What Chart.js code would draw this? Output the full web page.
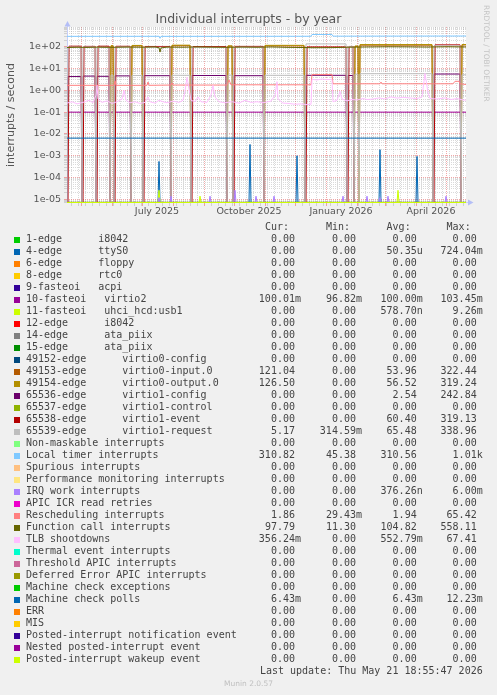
<!DOCTYPE html>
<html>
<head>
<meta charset="utf-8">
<title>Individual interrupts - by year</title>
<script src="https://cdn.jsdelivr.net/npm/chart.js@4/dist/chart.umd.min.js"></script>
<style>
  body { margin: 0; background: #f0f0f0; }
  #pagina { position: relative; width: 497px; height: 695px; overflow: hidden; font-family: 'DejaVu Sans', sans-serif; }
  #grafica { position: absolute; left: 0; top: 0; }
  #titulo { position: absolute; left: 0; top: 11.2px; width: 497px; text-align: center; font-size: 12.5px; line-height: 16px; color: #555; }
  #rrd { position: absolute; left: 482px; top: 5px; writing-mode: vertical-rl; font-size: 7.5px; line-height: 8px; color: #c4c4c4; white-space: nowrap; }
  #leyenda { position: absolute; left: 0; top: 0; width: 497px; font-family: 'DejaVu Sans Mono', monospace; font-size: 10px; color: #444; }
  .fila { position: absolute; left: 0; width: 497px; height: 12px; line-height: 12px; white-space: pre; }
  .cuadro { position: absolute; left: 14px; top: 3.4px; width: 6px; height: 6px; }
  .etiqueta { position: absolute; left: 26px; top: 0; }
  .valor { position: absolute; top: 0; text-align: right; }
  #munin { position: absolute; left: 0; top: 679px; width: 497px; text-align: center; font-size: 7.5px; line-height: 10px; color: #c0c0c0; }
</style>
</head>
<body>
<div id="pagina">
  <canvas id="grafica" width="497" height="225"></canvas>
  <div id="titulo">Individual interrupts - by year</div>
  <div id="rrd">RRDTOOL / TOBI OETIKER</div>
  <div id="leyenda"></div>
  <div id="munin">Munin 2.0.57</div>
</div>
<script>
// x = días desde el 17 abr 2025 (399 = 21 may 2026), y = interrupciones / segundo
const DIA_FIN = 399;
const Y_MIN = 6.8e-6;
const Y_MAX = 805;
const Y_CERO = 7.17e-6; // el cero se dibuja sobre la última fila de píxeles

// Eje x: inicios de mes y etiquetas
const diasMes = [14, 45, 75, 106, 137, 167, 198, 228, 259, 290, 318, 349, 379];
const diasEtiqueta = [75, 167, 259, 349];
const textosEtiqueta = ['July 2025', 'October 2025', 'January 2026', 'April 2026'];
const primerLunes = 4;
const decadasY = [-6, -5, -4, -3, -2, -1, 0, 1, 2];

const nombres = [
  '1-edge      i8042', '4-edge      ttyS0', '6-edge      floppy', '8-edge      rtc0',
  '9-fasteoi   acpi', '10-fasteoi   virtio2', '11-fasteoi   uhci_hcd:usb1', '12-edge      i8042',
  '14-edge      ata_piix', '15-edge      ata_piix', '49152-edge      virtio0-config',
  '49153-edge      virtio0-input.0', '49154-edge      virtio0-output.0', '65536-edge      virtio1-config',
  '65537-edge      virtio1-control', '65538-edge      virtio1-event', '65539-edge      virtio1-request',
  'Non-maskable interrupts', 'Local timer interrupts', 'Spurious interrupts',
  'Performance monitoring interrupts', 'IRQ work interrupts', 'APIC ICR read retries',
  'Rescheduling interrupts', 'Function call interrupts', 'TLB shootdowns',
  'Thermal event interrupts', 'Threshold APIC interrupts', 'Deferred Error APIC interrupts',
  'Machine check exceptions', 'Machine check polls', 'ERR', 'MIS',
  'Posted-interrupt notification event', 'Nested posted-interrupt event', 'Posted-interrupt wakeup event'
];
const colores = [
  '#00CC00', '#0066B3', '#FF8000', '#FFCC00', '#330099', '#990099', '#CCFF00', '#FF0000',
  '#808080', '#008F00', '#00487D', '#B35A00', '#B38F00', '#6B006B', '#8FB300', '#B30000',
  '#BEBEBE', '#80FF80', '#80C9FF', '#FFC080', '#FFE680', '#AA80FF', '#EE00CC', '#FF8080',
  '#666600', '#FFBFFF', '#00FFCC', '#CC6699', '#999900', '#00CC00', '#0066B3', '#FF8000',
  '#FFCC00', '#330099', '#990099', '#CCFF00'
];

const valCur = ['0.00', '0.00', '0.00', '0.00', '0.00', '100.01m', '0.00', '0.00', '0.00', '0.00', '0.00', '121.04', '126.50', '0.00', '0.00', '0.00', '5.17', '0.00', '310.82', '0.00', '0.00', '0.00', '0.00', '1.86', '97.79', '356.24m', '0.00', '0.00', '0.00', '0.00', '6.43m', '0.00', '0.00', '0.00', '0.00', '0.00'];
const valMin = ['0.00', '0.00', '0.00', '0.00', '0.00', '96.82m', '0.00', '0.00', '0.00', '0.00', '0.00', '0.00', '0.00', '0.00', '0.00', '0.00', '314.59m', '0.00', '45.38', '0.00', '0.00', '0.00', '0.00', '29.43m', '11.30', '0.00', '0.00', '0.00', '0.00', '0.00', '0.00', '0.00', '0.00', '0.00', '0.00', '0.00'];
const valAvg = ['0.00', '50.35u', '0.00', '0.00', '0.00', '100.00m', '578.70n', '0.00', '0.00', '0.00', '0.00', '53.96', '56.52', '2.54', '0.00', '60.40', '65.48', '0.00', '310.56', '0.00', '0.00', '376.26n', '0.00', '1.94', '104.82', '552.79m', '0.00', '0.00', '0.00', '0.00', '6.43m', '0.00', '0.00', '0.00', '0.00', '0.00'];
const valMax = ['0.00', '724.04m', '0.00', '0.00', '0.00', '103.45m', '9.26m', '0.00', '0.00', '0.00', '0.00', '322.44', '319.24', '242.84', '0.00', '319.13', '338.96', '0.00', '1.01k', '0.00', '0.00', '6.00m', '0.00', '65.42', '558.11', '67.41', '0.00', '0.00', '0.00', '0.00', '12.23m', '0.00', '0.00', '0.00', '0.00', '0.00'];

// Reinicios: los contadores virtio caen a cero; un nivel por tramo entre reinicios
const reinicios = [0, 15, 29, 43, 47, 64, 76, 104, 124, 160, 166, 197, 238, 280, 287, 292, 366, 394];
const nivelInput0 = [0, 0, 0, 108, 0, 110, 0, 112, 0, 106, 0, 110, 0, 0, 104, 118, 0, 121];
const nivelOutput0 = [0, 0, 0, 112, 0, 115, 0, 118, 0, 110, 0, 116, 0, 0, 108, 126, 0, 126.5];
const nivelConfig1 = [4.3, 4.5, 4.4, 0, 4.6, 0, 4.7, 0, 4.8, 0, 4.7, 0, 4.9, 4.8, 0, 0, 5.6, 0];
const nivelEvent1 = [106, 104, 106, 0, 105, 0, 103, 0, 102, 0, 104, 0, 98, 103, 0, 0, 122, 0];
const nivelRequest1 = [96, 98, 94, 5.0, 97, 4.8, 95, 4.9, 94, 5.0, 96, 4.9, 135, 100, 5.5, 5.8, 110, 5.17];

// Picos de un día [día, valor]
const picosTtyS0 = [[92, 5.5e-4], [183, 3.3e-3], [230, 1.0e-3], [313, 1.9e-3], [350, 9.3e-4]];
const picosUhci = [[92, 2.6e-5], [133, 1.4e-5], [331, 2.6e-5]];
const picosIrqWork = [[92, 1.2e-5], [104, 1.4e-5], [143, 1.4e-5], [168, 2.6e-5], [189, 1.4e-5], [207, 1.4e-5], [276, 1.4e-5], [300, 1.4e-5], [313, 1.2e-5], [321, 1.4e-5], [379, 1.4e-5]];

// Series continuas [día, valor]
const localTimer = [[0, 300], [92, 302], [93, 245], [94, 300], [244, 303], [245, 365], [265, 365], [266, 306], [399, 310.8]];
const funcCall = [[0, 92], [10, 95], [20, 93], [30, 96], [45, 94], [60, 97], [75, 95], [88, 98], [92, 90], [93, 57], [94, 88], [100, 97], [115, 95], [130, 98], [145, 96], [160, 94], [175, 97], [190, 95], [205, 98], [220, 94], [238, 92], [245, 90], [265, 91], [280, 95], [300, 98], [320, 100], [340, 99], [360, 97], [380, 100], [399, 97.8]];
const resched = [[0, 1.7], [47, 1.7], [48, 2.7], [49, 1.7], [80, 1.7], [81, 2.4], [82, 1.7], [104, 1.75], [105, 2.2], [106, 1.75], [160, 1.75], [162, 3.0], [164, 1.8], [244, 1.8], [245, 5.3], [265, 5.3], [266, 2.0], [313, 2.0], [314, 2.4], [315, 2.0], [386, 2.0], [388, 2.6], [392, 2.6], [393, 2.0], [399, 1.86]];
const tlb = [[0, 0.26], [5, 0.3], [10, 0.24], [16, 0.28], [22, 0.35], [26, 0.27], [29, 0.6], [30, 1.7], [31, 0.4], [35, 0.28], [40, 0.33], [45, 0.25], [50, 0.3], [55, 0.4], [57, 1.0], [59, 0.35], [63, 0.27], [68, 0.3], [73, 0.25], [78, 0.28], [81, 0.5], [83, 0.3], [88, 0.26], [92, 0.35], [96, 0.3], [100, 0.27], [106, 0.32], [112, 0.28], [116, 0.35], [118, 0.9], [120, 4.0], [122, 1.2], [124, 0.35], [128, 0.3], [131, 0.5], [134, 0.3], [140, 0.28], [144, 0.6], [146, 1.7], [148, 0.5], [152, 0.3], [158, 0.27], [165, 0.3], [172, 0.26], [178, 0.35], [184, 0.28], [190, 0.3], [196, 0.27], [204, 0.32], [208, 0.6], [210, 2.5], [211, 0.4], [216, 0.26], [222, 0.25], [228, 0.23], [234, 0.24], [240, 0.22], [244, 0.23], [245, 3.2], [250, 3.0], [255, 3.3], [260, 3.1], [265, 3.2], [266, 0.3], [270, 0.35], [273, 0.9], [275, 0.4], [280, 0.33], [285, 0.38], [290, 0.36], [296, 0.42], [300, 0.38], [306, 0.4], [312, 0.45], [318, 0.4], [324, 0.5], [330, 0.44], [336, 0.48], [342, 0.45], [350, 0.42], [355, 0.5], [358, 6.0], [361, 0.8], [363, 0.42], [370, 0.4], [378, 0.45], [384, 0.38], [390, 0.42], [396, 0.36], [399, 0.356]];
const virtio2 = [[0, 0.1], [399, 0.1]];
const mcePolls = [[0, 6.43e-3], [399, 6.43e-3]];
const ceros = [[0, 0], [399, 0]];

// 1. Construcción de puntos
function picos(lista) {
  const pts = [[0, 0]];
  lista.forEach(([d, v]) => pts.push([d - 1, 0], [d, v], [d + 1, 0]));
  pts.push([DIA_FIN, 0]);
  return pts;
}

function tramos(niveles, hueco) {
  const pts = [];
  reinicios.forEach((ini, i) => {
    const fin = i + 1 < reinicios.length ? reinicios[i + 1] - 1 : DIA_FIN;
    for (let k = 0; k < hueco; k++) pts.push([ini + k, 0]);
    pts.push([ini + hueco, niveles[i]], [fin, niveles[i]]);
  });
  return pts;
}

const series = nombres.map(() => ceros);
series[1] = picos(picosTtyS0);
series[5] = virtio2;
series[6] = picos(picosUhci);
series[11] = tramos(nivelInput0, 1);
series[12] = tramos(nivelOutput0, 1);
series[13] = tramos(nivelConfig1, 1);
series[15] = tramos(nivelEvent1, 2);
series[16] = tramos(nivelRequest1, 1);
series[18] = localTimer;
series[21] = picos(picosIrqWork);
series[23] = resched;
series[24] = funcCall;
series[25] = tlb;
series[30] = mcePolls;

const datasets = series.map((pts, i) => ({
  label: nombres[i].replace(/\s+/g, ' '),
  data: pts.map(([d, v]) => ({ x: d, y: v > 0 ? v : Y_CERO })),
  borderColor: colores[i],
  borderWidth: 1,
  pointRadius: 0,
  tension: 0,
  fill: false,
  order: nombres.length - 1 - i
}));

// 2. Ticks de los ejes
const ticksX = [];
for (let d = primerLunes; d <= DIA_FIN; d += 7) {
  if (!diasMes.includes(d)) ticksX.push({ value: d, major: false });
}
diasMes.forEach(d => ticksX.push({ value: d, major: true }));
ticksX.sort((a, b) => a.value - b.value);

const ticksY = [];
decadasY.forEach(e => {
  for (let m = 1; m <= 9; m++) {
    const v = Number(m + 'e' + e);
    if (v >= Y_MIN && v <= Y_MAX) ticksY.push({ value: v, major: m === 1 });
  }
});

function formatoExp(v) {
  const e = Math.round(Math.log10(v));
  return '1e' + (e < 0 ? '-' : '+') + String(Math.abs(e)).padStart(2, '0');
}

const ROJO = 'rgba(232,110,110,0.6)';
const GRIS = 'rgba(140,140,140,0.32)';
const colorGrid = c => (c.tick && c.tick.major ? ROJO : GRIS);
const fuenteEje = { family: 'DejaVu Sans', size: 9.5 };

const fondo = {
  id: 'fondo',
  beforeDraw(chart) {
    const { ctx, chartArea: a } = chart;
    ctx.save();
    ctx.fillStyle = '#ffffff';
    ctx.fillRect(a.left, a.top, a.right - a.left, a.bottom - a.top);
    ctx.restore();
  }
};

const flechas = {
  id: 'flechas',
  beforeDatasetsDraw(chart) {
    const { ctx, chartArea: a } = chart;
    ctx.save();
    ctx.strokeStyle = '#c8cff8';
    ctx.lineWidth = 1;
    ctx.beginPath();
    ctx.moveTo(a.left + 0.5, a.bottom);
    ctx.lineTo(a.left + 0.5, a.top - 4);
    ctx.moveTo(a.left, a.bottom - 0.5);
    ctx.lineTo(a.right + 4, a.bottom - 0.5);
    ctx.stroke();
    ctx.restore();
  },
  afterDraw(chart) {
    const { ctx, chartArea: a } = chart;
    ctx.save();
    ctx.fillStyle = '#b4bef6';
    ctx.beginPath();
    ctx.moveTo(a.left + 0.5, a.top - 6);
    ctx.lineTo(a.left - 2.5, a.top - 0.5);
    ctx.lineTo(a.left + 3.5, a.top - 0.5);
    ctx.closePath();
    ctx.fill();
    ctx.beginPath();
    ctx.moveTo(a.right + 7.5, a.bottom - 0.5);
    ctx.lineTo(a.right + 2, a.bottom - 3.5);
    ctx.lineTo(a.right + 2, a.bottom + 2.5);
    ctx.closePath();
    ctx.fill();
    ctx.restore();
  }
};

// 3. Gráfica
new Chart(document.getElementById('grafica'), {
  type: 'line',
  data: { datasets },
  options: {
    responsive: false,
    animation: false,
    events: [],
    layout: { padding: { left: 0, right: 31, top: 27, bottom: 0 } },
    plugins: { legend: { display: false }, tooltip: { enabled: false }, title: { display: false } },
    scales: {
      x: {
        type: 'linear',
        min: 0,
        max: DIA_FIN,
        afterBuildTicks: s => { s.ticks = ticksX.map(t => ({ ...t })); },
        afterFit: s => { s.height = 22; },
        grid: { color: colorGrid, tickColor: colorGrid, tickLength: 3, lineWidth: 1 },
        border: { display: false, dash: [1, 1] },
        ticks: {
          autoSkip: false,
          maxRotation: 0,
          padding: 0,
          labelOffset: 15,
          font: fuenteEje,
          color: '#555',
          callback: v => {
            const i = diasEtiqueta.indexOf(v);
            return i >= 0 ? textosEtiqueta[i] : '';
          }
        }
      },
      y: {
        type: 'logarithmic',
        min: Y_MIN,
        max: Y_MAX,
        afterBuildTicks: s => { s.ticks = ticksY.map(t => ({ ...t })); },
        afterFit: s => { s.width = 67; },
        grid: { color: colorGrid, tickColor: colorGrid, tickLength: 3, lineWidth: 1 },
        border: { display: false, dash: [1, 1] },
        ticks: {
          autoSkip: false,
          padding: 3,
          font: fuenteEje,
          color: '#555',
          callback: (v, i, ts) => (ts[i].major ? formatoExp(v) : '')
        },
        title: {
          display: true,
          text: 'interrupts / second',
          font: { family: 'DejaVu Sans', size: 11 },
          color: '#555',
          padding: { top: 5, bottom: 0 }
        }
      }
    }
  },
  plugins: [fondo, flechas]
});

// 4. Leyenda (tabla de rrdtool)
const derechas = [301, 362, 422.7, 482.7];
const conUnidad = v => (/[a-z]$/i.test(v) ? v : v + ' ');
const topFila = i => 233.3 + 12 * i;

const celdas = vals => vals.map((v, k) =>
  `<span class="valor" style="right:${497 - derechas[k]}px">${v}</span>`).join('');

document.getElementById('leyenda').innerHTML = [
  `<div class="fila" style="top:${topFila(-1)}px">${celdas(['Cur:  ', 'Min:  ', 'Avg:  ', 'Max:  '])}</div>`,
  ...nombres.map((n, i) =>
    `<div class="fila" style="top:${topFila(i)}px"><span class="cuadro" style="background:${colores[i]}"></span><span class="etiqueta">${n}</span>${celdas([valCur[i], valMin[i], valAvg[i], valMax[i]].map(conUnidad))}</div>`),
  `<div class="fila" style="top:${topFila(nombres.length)}px"><span class="valor" style="right:${497 - 482.7}px">Last update: Thu May 21 18:55:47 2026</span></div>`
].join('');
</script>
</body>
</html>
